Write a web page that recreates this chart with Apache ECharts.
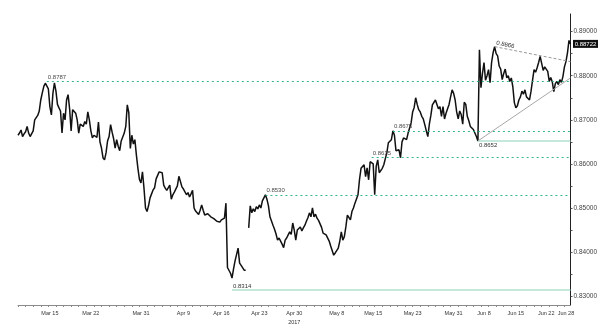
<!DOCTYPE html>
<html><head><meta charset="utf-8">
<script src="https://cdn.jsdelivr.net/npm/echarts@6/dist/echarts.min.js"></script>
<style>html,body{margin:0;padding:0;background:#fff}#c{width:600px;height:331px}</style>
</head><body><div id="c"></div>
<script>
// Tick labels (one per period, the period starts at its label)
const periodLabels = ['', 'Mar 15', 'Mar 22', 'Mar 31', 'Apr 9', 'Apr 16', 'Apr 23', 'Apr 30', 'May 8', 'May 15', 'May 23', 'May 31', 'Jun 8', 'Jun 15', 'Jun 22', 'Jun 28'];
const yearLabel = '2017';
const yearUnder = 'Apr 30';

// EUR/GBP price path, by period
const sMar10 = [0.8665,0.8670,0.8677,0.8662,0.8668,0.8673,0.8685,0.8670,0.8662,0.8659,0.8675,0.8700,0.8705,0.8710,0.8720,0.8745,0.8761,0.8776,0.8783,0.8787,0.8770];
const sMar15 = [0.8730,0.8711,0.8760,0.8784,0.8765,0.8735,0.8727,0.8720,0.8670,0.8715,0.8700,0.8745,0.8757,0.8725,0.8675,0.8723,0.8727,0.8715,0.8700,0.8670,0.8690,0.8690,0.8685,0.8696,0.8690,0.8718,0.8700];
const sMar22 = [0.8675,0.8659,0.8665,0.8662,0.8660,0.8695,0.8650,0.8636,0.8614,0.8609,0.8625,0.8652,0.8662,0.8689,0.8672,0.8657,0.8636,0.8655,0.8640,0.8630,0.8652,0.8648,0.8670,0.8685,0.8734,0.8716,0.8635,0.8665,0.8645,0.8655,0.8620,0.8590,0.8565];
const sMar31 = [0.8557,0.8582,0.8545,0.8500,0.8492,0.8505,0.8523,0.8532,0.8541,0.8546,0.8566,0.8563,0.8582,0.8586,0.8580,0.8552,0.8545,0.8540,0.8537,0.8552,0.8520,0.8530,0.8536,0.8534,0.8550,0.8572,0.8560,0.8548];
const sApr9 = [0.8543,0.8541,0.8530,0.8535,0.8525,0.8532,0.8540,0.8500,0.8493,0.8489,0.8485,0.8495,0.8507,0.8495,0.8484,0.8481,0.8487,0.8484,0.8480,0.8480,0.8476,0.8473,0.8470,0.8466,0.8468];
const sApr16 = [0.8473,0.8470,0.8477,0.8511,0.8365,0.8368,0.8352,0.8341,0.8362,0.8380,0.8378,0.8409,0.8375,0.8370,0.8370,0.8359,0.8359,null,0.8455,0.8505,0.8489,0.8498,0.8492,0.8503,0.8498];
const sApr23 = [0.8507,0.8500,0.8516,0.8523,0.8530,0.8520,0.8505,0.8480,0.8478,0.8461,0.8452,0.8441,0.8427,0.8432,0.8425,0.8418,0.8410,0.8427,0.8432,0.8439,0.8446,0.8440,0.8466];
const sApr30 = [0.8450,0.8427,0.8450,0.8446,0.8457,0.8448,0.8455,0.8461,0.8470,0.8478,0.8489,0.8480,0.8500,0.8480,0.8486,0.8477,0.8472,0.8468,0.8456,0.8443,0.8445,0.8439,0.8435,0.8425,0.8414,0.8410,0.8393,0.8398];
const sMay8 = [0.8398,0.8409,0.8425,0.8446,0.8427,0.8435,0.8457,0.8484,0.8480,0.8473,0.8492,0.8500,0.8511,0.8515,0.8530,0.8565,0.8590,0.8586,0.8598,0.8571,0.8591,0.8564,0.8605,0.8609];
const sMay15 = [0.8600,0.8530,0.8595,0.8609,0.8580,0.8583,0.8590,0.8598,0.8612,0.8625,0.8648,0.8645,0.8655,0.8675,0.8665,0.8630,0.8628,0.8632,0.8614,0.8650,0.8659,0.8662,0.8655,0.8670,0.8672,0.8693];
const sMay23 = [0.8718,0.8728,0.8750,0.8735,0.8723,0.8718,0.8708,0.8702,0.8689,0.8675,0.8662,0.8690,0.8710,0.8734,0.8730,0.8745,0.8735,0.8725,0.8730,0.8708,0.8730,0.8702,0.8715,0.8725,0.8735,0.8752,0.8768];
const sMay31 = [0.8760,0.8745,0.8718,0.8702,0.8720,0.8712,0.8690,0.8740,0.8735,0.8708,0.8698,0.8685,0.8688,0.8678,0.8680,0.8662,0.8652,0.8859,0.8773,0.8805];
const sJun8 = [0.8830,0.8790,0.8800,0.8814,0.8784,0.8830,0.8852,0.8866,0.8850,0.8845,0.8822,0.8815,0.8791,0.8805,0.8815,0.8795,0.8800,0.8787,0.8795,0.8775,0.8739];
const sJun15 = [0.8727,0.8732,0.8745,0.8752,0.8765,0.8758,0.8768,0.8752,0.8750,0.8745,0.8765,0.8790,0.8814,0.8808,0.8818,0.8830,0.8844,0.8828,0.8812,0.8820];
const sJun22 = [0.8822,0.8810,0.8787,0.8796,0.8786,0.8764,0.8782,0.8787,0.8780,0.8791,0.8785,0.8798,0.8820];
const sJun28 = [0.8832,0.8852,0.8880,0.8872];

const lastPrice = 0.88722;
const yLabelValues = [0.83, 0.84, 0.85, 0.86, 0.87, 0.88, 0.89];
const yTickValues = [0.83, 0.835, 0.84, 0.845, 0.85, 0.855, 0.86, 0.865, 0.87, 0.875, 0.88, 0.885, 0.89];

// Annotated levels: value, period where it was set, line style
const levels = [
  { value: 0.8787, period: 'Start', kind: 'dotted' },
  { value: 0.8314, period: 'Apr 16', kind: 'solid' },
  { value: 0.8530, period: 'Apr 23', kind: 'dotted' },
  { value: 0.8615, period: 'May 8', kind: 'dotted' },
  { value: 0.8675, period: 'May 15', kind: 'dotted' },
  { value: 0.8652, period: 'May 31', kind: 'solid', below: true }
];
// Triangle trendlines: start level/period, value at chart end
const trendHigh = { value: 0.8866, period: 'Jun 8', end: 0.8832 };
const trendLow = { value: 0.8652, period: 'May 31', end: 0.8795 };

const periods = [sMar10, sMar15, sMar22, sMar31, sApr9, sApr16, sApr23, sApr30, sMay8, sMay15, sMay23, sMay31, sJun8, sJun15, sJun22, sJun28];

const values = [];
const labelAt = {};
const offsets = [];
periods.forEach((arr, p) => {
  offsets.push(values.length);
  if (periodLabels[p]) labelAt[values.length] = periodLabels[p];
  arr.forEach(v => values.push(v));
});
const cats = values.map((_, i) => String(i));
const lastIdx = values.length - 1;

function periodIndex(name) { return name === 'Start' ? 0 : periodLabels.indexOf(name); }
function nearestIdx(name, value) {
  const p = periodIndex(name);
  const arr = periods[p];
  let best = -1, bd = Infinity;
  arr.forEach((v, i) => { if (v != null && Math.abs(v - value) < bd) { bd = Math.abs(v - value); best = i; } });
  return offsets[p] + best;
}

const GREEN_DOT = '#1fae78';
const GREEN_SOLID = '#b0e0cc';
const lblStyle = { show: true, fontSize: 6, color: '#333', fontFamily: 'Liberation Sans, Arial, sans-serif', distance: 1, padding: 0 };

const mlData = levels.map(l => {
  const i = nearestIdx(l.period, l.value);
  return [
    {
      coord: [i, l.value],
      lineStyle: l.kind === 'dotted'
        ? { color: GREEN_DOT, type: [2, 3], width: 1, opacity: 0.9 }
        : { color: GREEN_SOLID, type: 'solid', width: 1.6 },
      label: Object.assign({}, lblStyle, { position: l.below ? 'insideStartBottom' : 'insideStartTop', formatter: l.value.toFixed(4) })
    },
    { coord: [lastIdx, l.value] }
  ];
});
mlData.push([
  { coord: [nearestIdx(trendHigh.period, trendHigh.value), trendHigh.value], lineStyle: { color: '#9a9a9a', type: [3, 2], width: 1 },
    label: Object.assign({}, lblStyle, { position: 'insideStartTop', formatter: trendHigh.value.toFixed(4) }) },
  { coord: [lastIdx, trendHigh.end] }
]);
mlData.push([
  { coord: [nearestIdx(trendLow.period, trendLow.value), trendLow.value], lineStyle: { color: '#a8a8a8', type: 'solid', width: 1 }, label: { show: false } },
  { coord: [lastIdx, trendLow.end] }
]);

const chart = echarts.init(document.getElementById('c'), null, { renderer: 'canvas' });
chart.setOption({
  animation: false,
  backgroundColor: '#fff',
  grid: { left: 18, right: 29, top: 14, bottom: 26, containLabel: false },
  xAxis: {
    type: 'category', data: cats, boundaryGap: false,
    axisLine: { show: true, lineStyle: { color: '#8a8a8a', width: 1 } },
    axisTick: { show: true, length: 2, interval: i => i % 5 === 0, lineStyle: { color: '#8a8a8a' } },
    axisLabel: {
      interval: i => labelAt[i] !== undefined,
      formatter: (v, i) => labelAt[i] === yearUnder ? labelAt[i] + '\n' + yearLabel : (labelAt[i] || ''),
      fontSize: 5.5, color: '#333', margin: 4, lineHeight: 9,
      fontFamily: 'Liberation Sans Narrow, Liberation Sans, Arial, sans-serif'
    },
    splitLine: { show: false }
  },
  yAxis: {
    type: 'value', position: 'right', min: 0.828, max: 0.894,
    splitLine: { show: false },
    axisLine: { show: true, lineStyle: { color: '#222', width: 1 } },
    axisTick: { show: true, customValues: yTickValues, length: 2, lineStyle: { color: '#555' } },
    axisLabel: {
      customValues: yLabelValues, formatter: v => v.toFixed(5),
      fontSize: 6.5, color: '#444', margin: 3,
      fontFamily: 'Liberation Sans Narrow, Liberation Sans, Arial, sans-serif'
    }
  },
  series: [{
    type: 'line', data: values, showSymbol: false, symbol: 'none',
    connectNulls: false, clip: false,
    lineStyle: { color: '#111', width: 1.5 },
    markLine: { silent: true, symbol: 'none', animation: false, data: mlData },
    markPoint: {
      silent: true, animation: false,
      data: [{
        coord: [lastIdx, lastPrice], symbol: 'rect', symbolSize: [25, 8], symbolOffset: [15, 0],
        itemStyle: { color: '#111' },
        label: { show: true, position: 'inside', color: '#fff', fontSize: 6, formatter: lastPrice.toFixed(5),
                 fontFamily: 'Liberation Sans Narrow, Liberation Sans, Arial, sans-serif' }
      }]
    }
  }]
});
</script>
</body></html>
